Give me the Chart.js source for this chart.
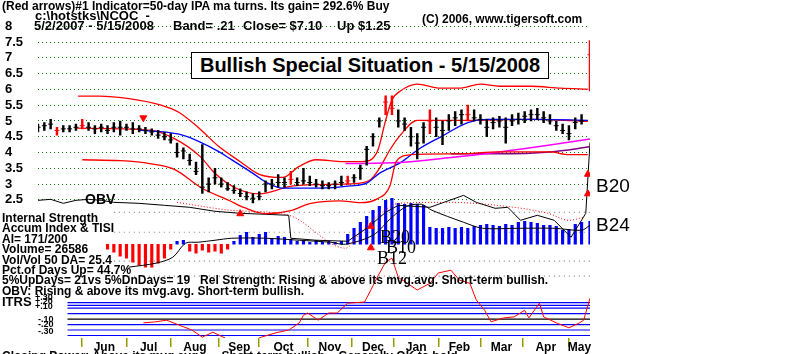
<!DOCTYPE html>
<html>
<head>
<meta charset="utf-8">
<script src="https://cdn.jsdelivr.net/npm/chart.js@4.4.1/dist/chart.umd.min.js"></script>
<style>
  body { margin: 0; background: #fff; }
  #wrap { position: relative; width: 800px; height: 354px; overflow: hidden; font-family: Arial, "Liberation Sans", sans-serif; }
  #wrap canvas { position: absolute; left: 0; top: 0; }
  .t { position: absolute; white-space: pre; font-weight: bold; font-size: 12px; line-height: 12px; color: #000; }
  .h { font-size: 13px; line-height: 13px; }
  .serif { font-family: "Liberation Serif", "Times New Roman", serif; font-weight: normal; font-size: 18px; line-height: 18px; }
  #box { position: absolute; left: 191px; top: 52px; width: 356px; height: 25px; border: 1px solid #000; background: #fff;
         font-weight: bold; font-size: 20px; line-height: 25px; text-align: center; }
</style>
</head>
<body>
<div id="wrap">
  <canvas id="chart" width="800" height="354"></canvas>

  <div class="t" style="left:2px;top:0px">(Red arrows)#1 Indicator=50-day IPA ma turns. Its gain= 292.6% Buy</div>
  <div class="t h" style="left:35px;top:9px">c:\hotstks\NCOC  -</div>
  <div class="t h" style="left:34px;top:19px">5/2/2007 - 5/15/2008</div>
  <div class="t h" style="left:173px;top:19px">Band= .21</div>
  <div class="t h" style="left:243px;top:19px">Close= $7.10</div>
  <div class="t h" style="left:337px;top:19px">Up $1.25</div>
  <div class="t" style="left:422px;top:13px">(C) 2006, www.tigersoft.com</div>
  <div id="box">Bullish Special Situation - 5/15/2008</div>

  <div class="t" style="left:85px;top:193px;font-size:14px">OBV</div>
  <div class="t" style="left:596px;top:176px;font-weight:normal;font-size:19px;line-height:19px">B20</div>
  <div class="t" style="left:596px;top:215px;font-weight:normal;font-size:19px;line-height:19px">B24</div>
  <div class="t serif" style="left:380px;top:228px">B20</div>
  <div class="t serif" style="left:386px;top:238px">B10</div>
  <div class="t serif" style="left:377px;top:249px">B12</div>

  <div class="t" style="left:2px;top:213px;line-height:10.4px">Internal Strength
Accum Index &amp; TISI
AI= 171/200
Volume= 26586
Vol/Vol 50 DA= 25.4
Pct.of Days Up= 44.7%
5%UpDays= 21vs 5%DnDays= 19   Rel Strength: Rising &amp; above its mvg.avg. Short-term bullish.
OBV: Rising &amp; above its mvg.avg. Short-term bullish.</div>

  <div class="t" style="left:2px;top:296px;font-size:13px">ITRS</div>
  <div class="t" style="left:35px;top:293px;font-size:9px;line-height:9px">+.30</div>
  <div class="t" style="left:35px;top:297px;font-size:9px;line-height:9px">+.20</div>
  <div class="t" style="left:35px;top:302px;font-size:9px;line-height:9px">+.10</div>
  <div class="t" style="left:38px;top:315px;font-size:9px;line-height:9px">-.10</div>
  <div class="t" style="left:38px;top:320px;font-size:9px;line-height:9px">-.20</div>
  <div class="t" style="left:38px;top:327px;font-size:9px;line-height:9px">-.30</div>

  <div class="t" style="left:2px;top:350px">Closing Power: Above its mvg.avg.      Short-term bullish.   Generally OK to hold.</div>
</div>

<script>
// ---- data (x = trading day since 5/2/2007) ----
const priceDays = [
  0, 3, 6, 9, 12, 15, 18, 21, 24, 27,
  30, 33, 36, 39, 42, 45, 48, 51, 54, 57,
  60, 63, 66, 69, 72, 75, 78, 81, 84, 87,
  90, 93, 96, 99, 102, 105, 108, 111, 114, 117,
  120, 123, 126, 129, 132, 135, 138, 141, 144, 147,
  150, 153, 156, 159, 162, 165, 168, 171, 174, 177,
  180, 183, 186, 189, 192, 195, 198, 201, 204, 207,
  210, 213, 216, 219, 222, 225, 228, 231, 234, 237,
  240, 243, 246, 249, 252, 255, 258, 262];
const priceLow = [
  4.65, 4.70, 4.75, 4.55, 4.65, 4.65, 4.70, 4.75, 4.70, 4.60,
  4.65, 4.60, 4.65, 4.55, 4.70, 4.60, 4.65, 4.60, 4.55, 4.45,
  4.40, 4.30, 3.85, 3.80, 3.60, 3.30, 2.70, 2.75, 3.00, 2.90,
  2.80, 2.70, 2.60, 2.50, 2.40, 2.50, 2.75, 2.85, 2.90, 2.90,
  3.00, 2.95, 3.00, 2.95, 2.90, 2.85, 2.85, 2.85, 2.95, 3.00,
  3.05, 3.15, 3.60, 4.20, 4.80, 5.20, 5.20, 4.80, 4.70, 4.20,
  3.80, 4.30, 4.60, 4.50, 4.25, 4.70, 4.85, 4.90, 5.00, 5.00,
  4.90, 4.50, 4.75, 4.80, 4.30, 4.85, 4.90, 4.95, 5.00, 5.05,
  4.95, 4.90, 4.70, 4.60, 4.40, 4.75, 4.90, 5.95];
const priceHigh = [
  4.90, 4.95, 5.05, 4.80, 4.85, 4.85, 4.90, 5.05, 4.95, 4.85,
  4.90, 4.85, 4.95, 5.00, 4.90, 4.95, 4.85, 4.80, 4.75, 4.70,
  4.65, 4.60, 4.30, 4.15, 3.95, 3.70, 4.25, 3.20, 3.50, 3.20,
  3.05, 2.95, 2.85, 2.75, 2.70, 2.75, 3.10, 3.15, 3.30, 3.20,
  3.40, 3.20, 3.50, 3.25, 3.15, 3.10, 3.05, 3.10, 3.25, 3.25,
  3.30, 3.60, 4.20, 4.60, 5.10, 5.80, 5.80, 5.35, 5.10, 4.80,
  4.60, 4.95, 5.35, 5.10, 5.00, 5.20, 5.30, 5.35, 5.50, 5.35,
  5.20, 5.05, 5.10, 5.15, 5.10, 5.20, 5.25, 5.30, 5.35, 5.40,
  5.30, 5.20, 5.00, 4.90, 4.85, 5.10, 5.20, 7.55];
const priceClose = [
  4.80, 4.85, 4.90, 4.70, 4.75, 4.75, 4.80, 4.85, 4.80, 4.75,
  4.80, 4.70, 4.80, 4.80, 4.80, 4.75, 4.75, 4.70, 4.65, 4.55,
  4.50, 4.40, 4.00, 4.05, 3.75, 3.40, 2.90, 3.00, 3.20, 3.00,
  2.85, 2.80, 2.70, 2.60, 2.55, 2.60, 3.00, 3.00, 3.05, 3.05,
  3.15, 3.05, 3.10, 3.05, 3.00, 2.95, 2.95, 3.00, 3.05, 3.10,
  3.20, 3.50, 4.10, 4.50, 5.00, 5.60, 5.40, 5.00, 4.90, 4.50,
  4.30, 4.80, 5.00, 4.80, 4.70, 5.00, 5.10, 5.20, 5.20, 5.10,
  5.05, 4.80, 4.95, 5.00, 4.80, 5.00, 5.05, 5.15, 5.20, 5.20,
  5.10, 5.00, 4.85, 4.70, 4.60, 4.95, 5.00, 7.10];
const redBarDays = [9, 21, 120, 147, 165, 168, 186, 204, 262];

const upperBandDays = [19, 29, 44, 58, 67, 77, 86, 96, 105, 116, 124, 132, 145, 154, 161, 165, 168, 172, 180, 191, 200, 210, 219, 234, 248, 261];
const upperBand = [5.79, 5.79, 5.70, 5.51, 5.27, 4.74, 4.18, 3.71, 3.31, 3.21, 3.56, 3.77, 3.71, 3.71, 4.02, 5.02, 5.67, 5.95, 6.17, 6.04, 6.04, 6.17, 6.10, 6.10, 6.04, 6.01];
const lowerBandDays = [21, 39, 53, 65, 77, 91, 98, 108, 120, 129, 143, 153, 161, 167, 170, 177, 200, 219, 243, 252, 261];
const lowerBand = [3.77, 3.74, 3.65, 3.46, 2.90, 2.47, 2.25, 2.06, 2.16, 2.38, 2.47, 2.41, 2.53, 2.94, 3.71, 3.93, 3.96, 4.02, 4.02, 3.93, 3.93];
const ma21Days = [18, 53, 65, 77, 84, 93, 105, 121, 145, 153, 158, 162, 167, 172, 180, 204, 235, 261];
const ma21 = [4.77, 4.71, 4.43, 3.87, 3.34, 2.90, 2.69, 2.94, 3.00, 3.03, 3.15, 3.49, 4.08, 4.55, 5.02, 5.02, 5.05, 4.99];
const ma50Days = [48, 67, 77, 86, 91, 102, 109, 116, 134, 148, 156, 162, 172, 181, 191, 204, 213, 235, 261];
const ma50 = [4.71, 4.58, 4.33, 4.02, 3.81, 3.34, 3.03, 2.87, 2.87, 2.94, 3.03, 3.34, 3.68, 4.12, 4.49, 4.95, 5.05, 5.05, 5.02];
const ma200Days = [146, 172, 196, 219, 243, 262];
const ma200 = [3.65, 3.68, 3.84, 4.02, 4.24, 4.43];
const maPurpleDays = [196, 219, 243, 262];
const maPurple = [3.96, 3.96, 4.02, 4.18];

const buyArrowDays = [96, 158, 158, 261, 261];
const buyArrowAt = [2.06, 1.66, 0.98, 3.31, 2.69];
const sellArrowDays = [50];
const sellArrowAt = [5.10];

const aiDays = [
  33, 36, 39, 42, 45, 48, 51, 54, 57, 60,
  63, 66, 69, 72, 75, 78, 81, 84, 87, 90,
  93, 96, 99, 102, 105, 108, 111, 114, 117, 120,
  123, 126, 129, 132, 135, 138, 141, 144, 147, 150,
  153, 156, 159, 162, 165, 168, 171, 174, 177, 180,
  183, 186, 189, 192, 195, 198, 201, 204, 207, 210,
  213, 216, 219, 222, 225, 228, 231, 234, 237, 240,
  243, 246, 249, 252, 255, 258, 262];
const aiValues = [
  -0.05, -0.08, -0.12, -0.14, -0.18, -0.21, -0.23, -0.23, -0.19, -0.14,
  -0.05, 0.03, 0.04, -0.07, -0.09, -0.06, -0.08, -0.07, -0.09, -0.05,
  0.03, 0.09, 0.12, 0.07, 0.10, 0.12, 0.06, 0.08, 0.07, 0.05,
  0.03, 0.03, 0.02, 0.04, 0.02, 0.03, 0.02, 0.03, 0.10, 0.16,
  0.22, 0.28, 0.34, 0.38, 0.44, 0.46, 0.41, 0.40, 0.41, 0.40,
  0.39, 0.17, 0.16, 0.16, 0.17, 0.16, 0.17, 0.16, 0.18, 0.19,
  0.20, 0.19, 0.18, 0.20, 0.19, 0.22, 0.23, 0.22, 0.21, 0.19,
  0.19, 0.18, 0.14, 0.15, 0.20, 0.22, 0.23];
const aiGridLevels = [0.32, 0.12, -0.17, -0.32];

const obvDays = [0, 6, 12, 18, 24, 30, 36, 48, 60, 72, 84, 96, 108, 119, 120, 132, 147, 156, 165, 171, 186, 202, 208, 217, 223, 229, 237, 245, 253, 260, 262];
const obvValues = [450, 460, 420, 450, 460, 450, 430, 420, 400, 380, 340, 320, 310, 300, 70, 50, 40, 170, 330, 400, 380, 500, 430, 370, 380, 250, 300, 250, 80, 320, 1030];
const obvMaDays = [66, 92, 119, 146, 152, 159, 166, 171, 194, 218, 242, 252, 259];
const obvMaValues = [430, 350, 300, -30, 100, 250, 370, 420, 430, 400, 320, 250, 280];
const tisiDays = [43, 56, 64, 70, 76, 84, 92, 108, 124, 139, 146, 159, 168, 175, 182, 187, 202, 211, 228, 245, 258, 262];
const tisiValues = [-220, -180, -120, 20, 30, 50, 70, 70, 50, 30, 10, 100, 280, 390, 410, 350, 230, 170, 170, 170, 150, 200];

const itrsDays = [50, 56, 61, 67, 73, 78, 83, 89, 95, 101, 106, 113, 119, 124, 126, 128, 133, 138, 142, 147, 155, 158, 161, 165, 168, 171, 180, 186, 190, 196, 200, 205, 208, 212, 215, 221, 226, 231, 233, 238, 240, 246, 252, 257, 259, 262];
const itrsValues = [-0.07, -0.05, -0.02, -0.11, -0.20, -0.33, -0.24, -0.35, -0.44, -0.42, -0.33, -0.25, -0.20, -0.07, 0.07, 0.11, -0.02, 0.11, 0.11, 0.29, 0.31, 0.53, 0.76, 1.04, 1.11, 0.76, 0.53, 0.65, 0.84, 0.89, 0.71, 0.65, 0.35, 0.16, -0.05, 0.02, 0.04, 0.16, 0.02, 0.29, 0.04, -0.07, -0.16, -0.07, -0.02, 0.38];
const itrsLevels = [0.3, 0.25, 0.2, 0.1, 0, -0.1, -0.2, -0.3];

const priceTicks = [8, 7.5, 7, 6.5, 6, 5.5, 5, 4.5, 4, 3.5, 3, 2.5];
const monthNames = ['Jun', 'Jul', 'Aug', 'Sep', 'Oct', 'Nov', 'Dec', 'Jan', 'Feb', 'Mar', 'Apr', 'May'];
const monthStartDays = [21, 42, 63, 86, 105, 128, 149, 169, 190, 210, 230, 252];
const LAST_DAY = 262;

// ---- layout helpers ----
const AREA_TOP = 10, AREA_BOTTOM = 338;
// value range that puts vA at pixel pxA and vB at pixel pxB inside the chart area
function span(vA, pxA, vB, pxB) {
  const k = (pxB - pxA) / (vA - vB);
  return { min: vB - (AREA_BOTTOM - pxB) / k, max: vA + (pxA - AREA_TOP) / k };
}
const pts = (xs, ys) => xs.map((x, i) => ({ x: x, y: ys[i] }));

const redSet = new Set(redBarDays);
const monthMid = monthStartDays.map((d, i) => (d + (i < monthStartDays.length - 1 ? monthStartDays[i + 1] : LAST_DAY)) / 2);
const monthLabel = new Map(monthMid.map((d, i) => [d, monthNames[i]]));
const boundarySet = new Set(monthStartDays);

function smoothLine(label, xs, ys, color, width, axis) {
  return {
    type: 'line', label: label, data: pts(xs, ys), yAxisID: axis || 'y',
    borderColor: color, borderWidth: width || 1.2, pointRadius: 0,
    cubicInterpolationMode: 'monotone', order: 6
  };
}
function refLines(levels, from, axis, colorFn, dash, order) {
  return levels.map(v => ({
    type: 'line', data: [{ x: from, y: v }, { x: LAST_DAY, y: v }], yAxisID: axis,
    borderColor: colorFn(v), borderWidth: 1.2, borderDash: dash, pointRadius: 0, order: order
  }));
}

Chart.defaults.font.family = 'Arial, "Liberation Sans", sans-serif';

const ctx = document.getElementById('chart').getContext('2d');
const chart = new Chart(ctx, {
  type: 'bar',
  data: {
    datasets: [
      ...refLines(aiGridLevels, 36, 'yAI', () => '#8a8a8a', [1, 4], 12),
      ...refLines(itrsLevels, 14, 'yItrs', v => v === 0 ? '#000000' : '#0000ff', [], 12),
      {
        type: 'bar', label: 'Accum Index', data: pts(aiDays, aiValues), yAxisID: 'yAI',
        backgroundColor: c => (c.raw && c.raw.y < 0) ? '#ff0000' : '#0000ff',
        barThickness: 2.5, grouped: false, borderWidth: 0, order: 10
      },
      {
        type: 'line', label: 'OBV', data: pts(obvDays, obvValues), yAxisID: 'yObv',
        borderColor: '#000', borderWidth: 1, pointRadius: 0, tension: 0, order: 8
      },
      {
        type: 'line', label: 'OBV ma', data: pts(obvMaDays, obvMaValues), yAxisID: 'yObv',
        borderColor: '#ff0000', borderWidth: 1, borderDash: [1, 2], pointRadius: 0,
        cubicInterpolationMode: 'monotone', order: 8
      },
      {
        type: 'line', label: 'TISI', data: pts(tisiDays, tisiValues), yAxisID: 'yTisi',
        borderColor: '#000', borderWidth: 1, pointRadius: 0, tension: 0.3, order: 8
      },
      {
        type: 'line', label: 'ITRS', data: pts(itrsDays, itrsValues), yAxisID: 'yItrs',
        borderColor: '#ff0000', borderWidth: 1, pointRadius: 0, tension: 0, order: 7
      },
      smoothLine('upper band', upperBandDays, upperBand, '#ff0000', 1.3),
      smoothLine('lower band', lowerBandDays, lowerBand, '#ff0000', 1.3),
      smoothLine('ma200', ma200Days, ma200, '#ff00ff', 1.5),
      smoothLine('ma purple', maPurpleDays, maPurple, '#800080', 1.5),
      smoothLine('ma50', ma50Days, ma50, '#0000ff', 1.3),
      smoothLine('ma21', ma21Days, ma21, '#ff0000', 1.3),
      {
        type: 'bar', label: 'price', yAxisID: 'y',
        data: priceDays.map((d, i) => ({ x: d, y: [priceLow[i], priceHigh[i]] })),
        backgroundColor: priceDays.map(d => redSet.has(d) ? '#ff0000' : '#000000'),
        barThickness: 1.8, grouped: false, borderWidth: 0, order: 3
      },
      {
        type: 'line', label: 'close', yAxisID: 'y', showLine: false,
        data: pts(priceDays, priceClose),
        pointStyle: 'line', pointRadius: 2.5, pointBorderWidth: 1,
        pointBorderColor: priceDays.map(d => redSet.has(d) ? '#ff0000' : '#000000'), order: 2
      },
      {
        type: 'line', label: 'buy', yAxisID: 'y', showLine: false,
        data: pts(buyArrowDays, buyArrowAt),
        pointStyle: 'triangle', pointRadius: 4, pointBackgroundColor: '#ff0000', pointBorderColor: '#ff0000', order: 1
      },
      {
        type: 'line', label: 'sell', yAxisID: 'y', showLine: false,
        data: pts(sellArrowDays, sellArrowAt),
        pointStyle: 'triangle', rotation: 180, pointRadius: 4, pointBackgroundColor: '#ff0000', pointBorderColor: '#ff0000', order: 1
      }
    ]
  },
  options: {
    responsive: false,
    animation: false,
    layout: { padding: { top: AREA_TOP, left: 5, right: 210, bottom: 0 } },
    plugins: { legend: { display: false }, tooltip: { enabled: false } },
    scales: {
      x: {
        type: 'linear', min: 0, max: LAST_DAY, position: 'bottom', offset: false,
        afterBuildTicks: axis => {
          axis.ticks = [...monthStartDays, ...monthMid].sort((a, b) => a - b).map(v => ({ value: v }));
        },
        afterFit: axis => {
          axis.height = 354 - AREA_BOTTOM;
          axis.paddingLeft = 0;
          axis.paddingRight = 0;
        },
        ticks: {
          autoSkip: false, maxRotation: 0, padding: -7, color: '#000',
          font: { size: 12, weight: 'bold' },
          callback: v => monthLabel.get(v) || ''
        },
        grid: {
          offset: false, drawOnChartArea: false, drawTicks: true, tickLength: 9, lineWidth: 1.5,
          color: c => (c.tick && boundarySet.has(c.tick.value)) ? '#999900' : 'rgba(0,0,0,0)'
        },
        border: { display: false }
      },
      y: {
        position: 'left', ...span(6.5, 73, 2.5, 199.5),
        afterBuildTicks: axis => { axis.ticks = priceTicks.map(v => ({ value: v })); },
        afterFit: axis => { axis.width = 33; },
        ticks: {
          crossAlign: 'far', color: '#000', font: { size: 13, weight: 'bold' },
          callback: v => String(v)
        },
        grid: { color: '#008000', lineWidth: 1, drawTicks: false },
        border: { display: false, dash: [1, 3] }
      },
      yAI: { display: false, ...span(0.3, 214, 0, 244) },
      yObv: { display: false, ...span(450, 200, 0, 245) },
      yTisi: { display: false, ...span(450, 200, 0, 245) },
      yItrs: { display: false, ...span(0.3, 302.5, 0, 319) }
    }
  }
});
</script>
</body>
</html>
